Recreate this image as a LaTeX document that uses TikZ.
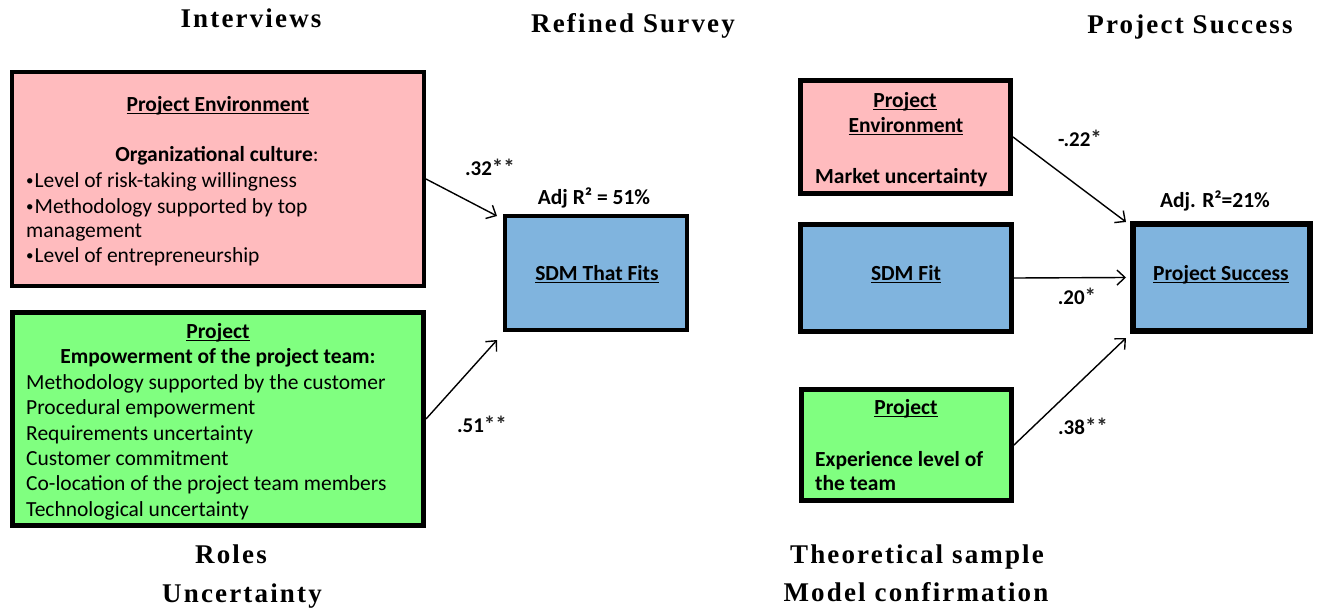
\documentclass[tikz,border=0pt]{standalone}
\usepackage{fontspec}
\setmainfont{Carlito}
\newfontfamily\headfont[LetterSpace=8]{Liberation Serif}
\usetikzlibrary{arrows.meta}

\definecolor{envpink}{RGB}{255,187,190}
\definecolor{projgreen}{RGB}{128,255,128}
\definecolor{sdmblue}{RGB}{128,180,222}

% thick underline for box titles
\newsavebox{\undlbox}
\newcommand{\undl}[1]{\sbox{\undlbox}{#1}\rlap{\rule[-3.4pt]{\wd\undlbox}{1.3pt}}\usebox{\undlbox}}
% small list bullet
\newcommand{\smbul}{\raisebox{1.5pt}{\fontsize{15}{15}\selectfont •}\kern1pt}
% significance stars
\newcommand{\sig}[1]{{\fontsize{23}{23}\selectfont\color{black!85}#1}}

\tikzset{
  box/.style={draw=black, inner sep=0pt, line join=miter},
  heading/.style={font=\headfont\bfseries\fontsize{27}{30}\selectfont, anchor=base, inner sep=0pt},
  ln/.style={font=\fontsize{21.5}{25}\selectfont, anchor=base west, inner sep=0pt},
  bln/.style={ln, font=\bfseries\fontsize{21.5}{25}\selectfont},
  ctr/.style={font=\bfseries\fontsize{21.5}{25}\selectfont, anchor=base, inner sep=0pt},
  coef/.style={font=\bfseries\fontsize{21}{25}\selectfont, anchor=base, inner sep=0pt},
  arr/.style={-{Straight Barb[length=8pt,width=15pt,line width=1.4pt]}, line width=1.4pt},
}

\begin{document}
\begin{tikzpicture}[x=1pt, y=-1pt]
\useasboundingbox (0,0) rectangle (1318,610);

% ---------- column headings ----------
\node[heading] (hInt) at (251,28) {Interviews};
\node[heading] (hRef) at (633,33) {Refined Survey};
\node[heading] (hSuc) at (1190,34) {Project Success};
\node[heading] (hRol) at (231,563) {Roles};
\node[heading] (hUnc) at (242,602) {Uncertainty};
\node[heading] (hThe) at (917,563) {Theoretical sample};
\node[heading] (hMod) at (916,601) {Model confirmation};

% ---------- left model ----------
\node[box, line width=4pt, fill=envpink, minimum width=412pt, minimum height=214pt] (envL) at (218,179) {};
\node[box, line width=5pt, fill=projgreen, minimum width=411pt, minimum height=213pt] (grnL) at (218,419) {};
\node[box, line width=4pt, fill=sdmblue, minimum width=182pt, minimum height=114pt] (sdmA) at (596,273) {};

\node[ctr] (envLt) at (218,111) {\undl{Project Environment}};
\node[ctr] (envLc) at (217,161) {Organizational culture\mdseries:};
\node[ln] (envL1) at (26,187) {\smbul Level of risk-taking willingness};
\node[ln] (envL2) at (26,213) {\smbul Methodology supported by top};
\node[ln] (envL3) at (26,237) {management};
\node[ln] (envL4) at (26,262) {\smbul Level of entrepreneurship};

\node[ctr] (grnLt) at (218,338) {\undl{Project}};
\node[ctr] (grnLc) at (218,363) {Empowerment of the project team:};
\node[ln] (grnL1) at (26,389) {Methodology supported by the customer};
\node[ln] (grnL2) at (26,414) {Procedural empowerment};
\node[ln] (grnL3) at (26,440) {Requirements uncertainty};
\node[ln] (grnL4) at (26,465) {Customer commitment};
\node[ln] (grnL5) at (26,490) {Co-location of the project team members};
\node[ln] (grnL6) at (26,516) {Technological uncertainty};

\node[ctr] (sdmAt) at (597,280) {\undl{SDM That Fits}};
\node[ctr] (sdmAr) at (594,204) {Adj R² = 51\%};

\draw[arr] (envL.east) -- ([shift={(-6,2)}]sdmA.north west);
\draw[arr] (grnL.east) -- ([shift={(-6,8)}]sdmA.south west);
\node[coef] (c32) at (490,175) {.32\sig{**}};
\node[coef] (c51) at (482,432) {.51\sig{**}};

% ---------- right model ----------
\node[box, line width=5pt, fill=envpink, minimum width=210pt, minimum height=113pt] (envR) at (905.5,137) {};
\node[box, line width=5pt, fill=sdmblue, minimum width=211pt, minimum height=107pt] (sdmR) at (906,278) {};
\node[box, line width=5pt, fill=projgreen, minimum width=210pt, minimum height=111pt] (grnR) at (906.5,445) {};
\node[box, line width=6pt, fill=sdmblue, minimum width=177pt, minimum height=107pt] (succ) at (1221.5,277.5) {};

\node[ctr] (envRt1) at (905,107) {\undl{Project}};
\node[ctr] (envRt2) at (906,132) {\undl{Environment}};
\node[bln] (envR1) at (815,183) {Market uncertainty};

\node[ctr] (sdmRt) at (906,280) {\undl{SDM Fit}};

\node[ctr] (grnRt) at (906,414) {\undl{Project}};
\node[bln] (grnR1) at (815,466) {Experience level of};
\node[bln] (grnR2) at (815,490) {the team};

\node[ctr] (succt) at (1221,280) {\undl{Project Success}};
\node[ctr] (succr) at (1215,207) {Adj. R²=21\%};

\draw[arr] (envR.east) -- ([shift={(-4,1)}]succ.north west);
\draw[arr] (sdmR.east) -- ([shift={(-4,0)}]succ.west);
\draw[arr] (grnR.east) -- ([shift={(-4,4)}]succ.south west);
\node[coef] (c22) at (1080,146) {-.22\sig{*}};
\node[coef] (c20) at (1077,304) {.20\sig{*}};
\node[coef] (c38) at (1083,434) {.38\sig{**}};
\end{tikzpicture}
\end{document}
